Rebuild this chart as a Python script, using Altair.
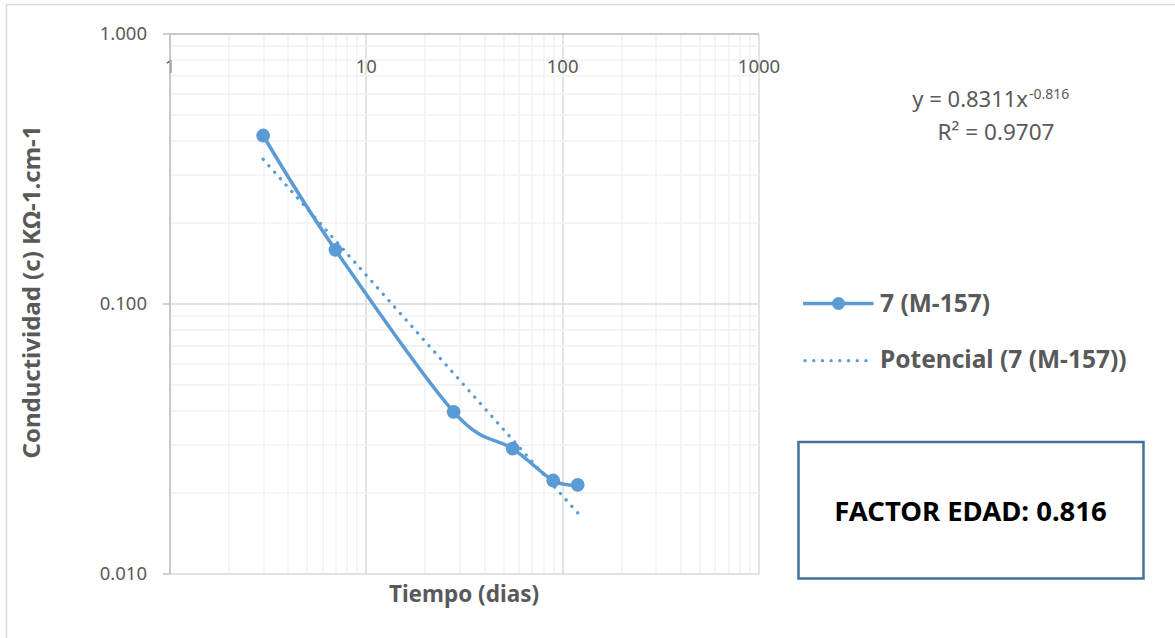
import altair as alt
import pandas as pd

# ---- data ----
dias = [3, 7, 28, 56, 90, 120]
conductividad = [0.419, 0.158, 0.0397, 0.029, 0.0221, 0.0213]

x_major = [1, 10, 100, 1000]
y_major = [0.01, 0.1, 1]
x_grid = [1, 2, 3, 4, 5, 6, 7, 8, 9,
          10, 20, 30, 40, 50, 60, 70, 80, 90,
          100, 200, 300, 400, 500, 600, 700, 800, 900, 1000]
y_grid = [0.01, 0.02, 0.03, 0.04, 0.05, 0.06, 0.07, 0.08, 0.09,
          0.1, 0.2, 0.3, 0.4, 0.5, 0.6, 0.7, 0.8, 0.9, 1]

serie = "7 (M-157)"
serie_trend = "Potencial (7 (M-157))"
eq_main = "y = 0.8311x"
eq_exp = "-0.816"
eq_r2 = "R² = 0.9707"
factor = "FACTOR EDAD: 0.816"
x_title = "Tiempo (dias)"
y_title = "Conductividad (c) KΩ-1.cm-1"

BLUE = "#5B9BD5"
GRAY = "#595959"
FONT = "Noto Sans"
W, H = 589, 540
L, T = 169.5, 33.5

df = pd.DataFrame({"dias": dias, "c": conductividad})

major_x = " || ".join(f"datum.value == {v}" for v in x_major)
major_y = " || ".join(f"datum.value == {v}" for v in y_major)

x_axis = alt.Axis(
    orient="top", values=x_grid, title=None,
    labelExpr=f"({major_x}) ? '' + datum.value : ''",
    ticks=False, domain=True, domainColor="#bfbfbf", domainWidth=1.5,
    grid=True, gridWidth=1.5,
    gridColor={"condition": {"test": major_x, "value": "#d9d9d9"}, "value": "#f0f0f0"},
    labelFont=FONT, labelFontSize=18.5, labelColor=GRAY,
    labelPadding=-39, labelBaseline="alphabetic",
    labelFlush=False, labelOverlap=False,
)
y_axis = alt.Axis(
    orient="left", values=y_grid, title=None,
    labelExpr=f"({major_y}) ? format(datum.value, '.3f') : ''",
    ticks=True, tickSize=7, tickWidth=1.5,
    tickColor={"condition": {"test": major_y, "value": "#bfbfbf"}, "value": "transparent"},
    domain=True, domainColor="#bfbfbf", domainWidth=1.5,
    grid=True, gridWidth=1.5,
    gridColor={"condition": {"test": major_y, "value": "#d9d9d9"}, "value": "#f0f0f0"},
    labelFont=FONT, labelFontSize=18.5, labelColor=GRAY,
    labelPadding=16, labelOverlap=False,
)

base = alt.Chart(df).encode(
    x=alt.X("dias:Q", scale=alt.Scale(type="log", domain=[1, 1000], nice=False), axis=x_axis),
    y=alt.Y("c:Q", scale=alt.Scale(type="log", domain=[0.01, 1], nice=False), axis=y_axis),
)

line = base.mark_line(color=BLUE, strokeWidth=3.5, interpolate="cardinal")
pts = base.mark_circle(color=BLUE, size=190, opacity=1)
trend = base.transform_regression("dias", "c", method="pow").mark_line(
    color=BLUE, strokeWidth=3.3, strokeDash=[0.1, 8.5], strokeCap="round"
)

one = pd.DataFrame({"k": [0]})


def txt(s, x, y, size, weight="normal", color=GRAY, align="center", baseline="alphabetic", angle=0):
    kw = dict(text=s, font=FONT, fontSize=size, fontWeight=weight, color=color,
              align=align, baseline=baseline)
    if angle:
        kw["angle"] = angle
    return alt.Chart(one).mark_text(**kw).encode(x=alt.value(x - L), y=alt.value(y - T))


# outer chart border (top and left edges visible)
border_left = alt.Chart(one).mark_rule(color="#d9d9d9", strokeWidth=1.5).encode(
    x=alt.value(6.5 - L), y=alt.value(4.5 - T), y2=alt.value(640 - T))
border_top = alt.Chart(one).mark_rule(color="#d9d9d9", strokeWidth=1.5).encode(
    y=alt.value(4.5 - T), x=alt.value(6.5 - L), x2=alt.value(1180 - L))

# titles
xt = txt(x_title, 464, 601.5, 22.5, weight="bold")
yt = txt(y_title, 33, 292, 24, weight="bold", baseline="middle", angle=270)

# equation
eq1 = txt(eq_main, 1028, 106.5, 22, align="right")
eq2 = txt(eq_exp, 1029, 98.5, 14, align="left")
eq3 = txt(eq_r2, 996, 139.5, 22.5)

# legend
leg_line = alt.Chart(one).mark_rule(color=BLUE, strokeWidth=3.5).encode(
    x=alt.value(803 - L), x2=alt.value(873.5 - L), y=alt.value(303.5 - T))
leg_pt = alt.Chart(one).mark_circle(color=BLUE, size=170, opacity=1).encode(
    x=alt.value(838.5 - L), y=alt.value(303.5 - T))
leg_t1 = txt(serie, 880, 305, 24.5, weight="bold", align="left", baseline="middle")
leg_dot = alt.Chart(one).mark_rule(color=BLUE, strokeWidth=3.3, strokeDash=[0.1, 8.6],
                                   strokeCap="round").encode(
    x=alt.value(805 - L), x2=alt.value(866 - L), y=alt.value(360.7 - T))
leg_t2 = txt(serie_trend, 880, 361, 24.5, weight="bold", align="left", baseline="middle")

# factor box
box = alt.Chart(one).mark_rect(fill="white", stroke="#41719C", strokeWidth=2.5).encode(
    x=alt.value(798.5 - L), x2=alt.value(1143.5 - L), y=alt.value(442 - T), y2=alt.value(578.5 - T))
box_t = txt(factor, 970.5, 520.5, 27.5, weight="bold", color="#000000")

chart = alt.layer(
    line, pts, trend,
    border_left, border_top, xt, yt, eq1, eq2, eq3,
    leg_line, leg_pt, leg_t1, leg_dot, leg_t2, box, box_t,
).properties(
    width=W, height=H,
    autosize=alt.AutoSizeParams(type="none"),
    padding={"left": L, "top": T, "right": 1175 - L - W, "bottom": 638 - T - H},
    background="white",
).configure_view(stroke=None)

chart.save("out.html", embed_options={"renderer": "svg", "actions": False})
